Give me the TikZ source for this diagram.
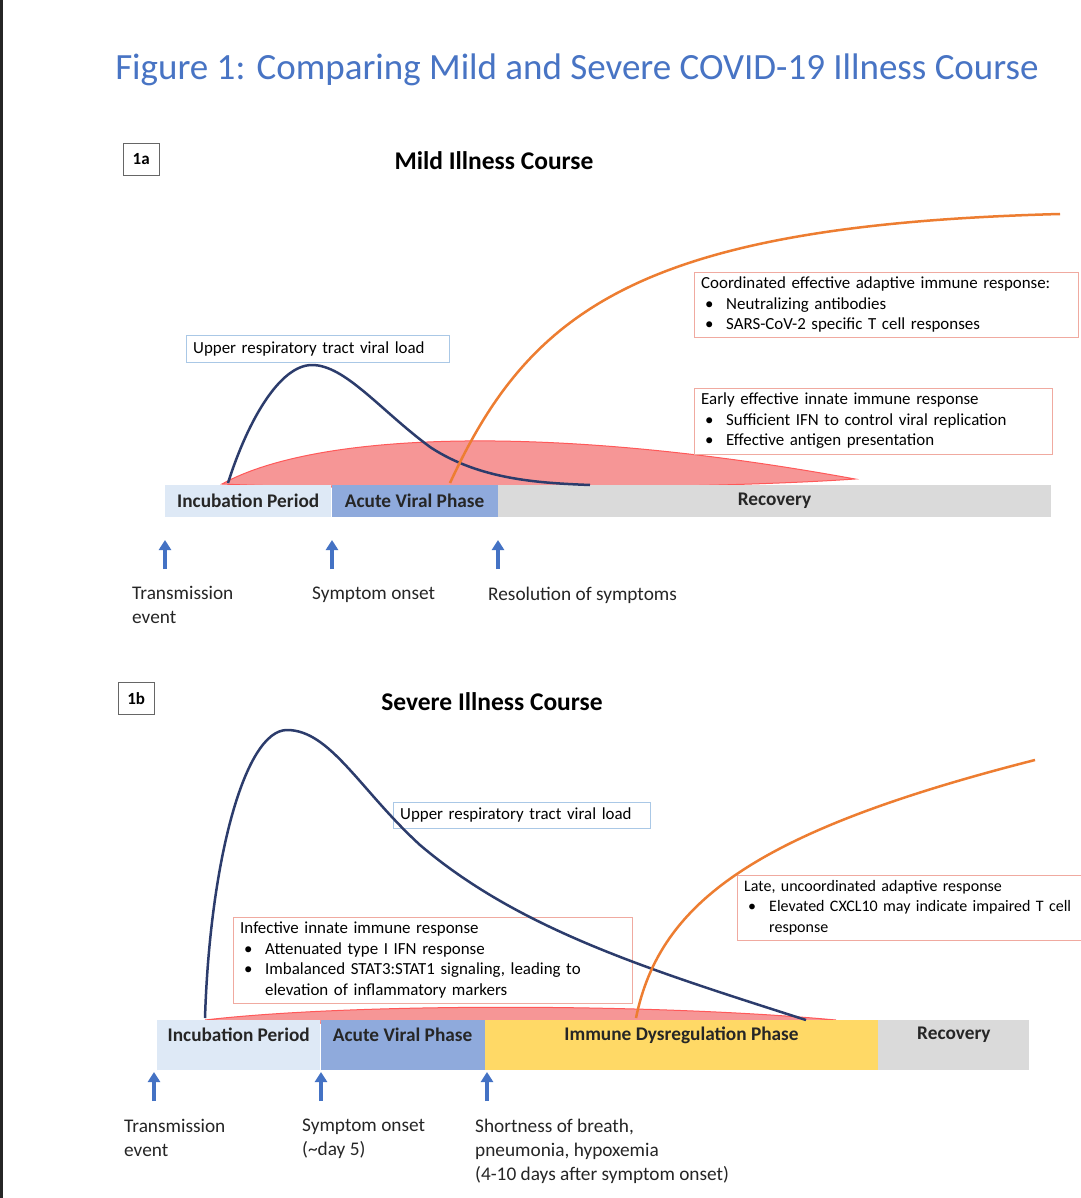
\documentclass[tikz,border=0pt]{standalone}
\usepackage{fontspec}
\setmainfont{Carlito}
\usetikzlibrary{arrows.meta, positioning}

\definecolor{titleblue}{RGB}{72,116,196}
\definecolor{incfill}{RGB}{222,233,246}
\definecolor{acutefill}{RGB}{143,170,220}
\definecolor{recfill}{RGB}{218,218,218}
\definecolor{dysfill}{RGB}{255,217,102}
\definecolor{viralblue}{RGB}{44,60,108}
\definecolor{adaptorange}{RGB}{237,125,49}
\definecolor{innatered}{RGB}{246,150,150}
\definecolor{boxred}{RGB}{240,170,160}
\definecolor{boxblue}{RGB}{170,200,230}
\definecolor{arrowblue}{RGB}{68,114,196}

\newcommand{\bul}{\makebox[25pt][l]{\hspace{4pt}\textbullet}}

\begin{document}
\begin{tikzpicture}[x=1pt, y=-1pt,
    phase/.style={rectangle, draw=none, anchor=north west, inner sep=0pt},
    phaselabel/.style={font=\fontsize{19.3}{22}\selectfont\bfseries, text=black!85},
    panel/.style={rectangle, draw=black!60, fill=white, font=\fontsize{17}{20}\selectfont\bfseries,
                  minimum width=36pt, minimum height=32pt, inner sep=0pt, anchor=north west},
    heading/.style={font=\fontsize{25.5}{30}\selectfont\bfseries},
    note/.style={rectangle, draw=boxred, fill=white, anchor=north west, align=left,
                 inner xsep=7pt, inner ysep=5pt, font=\fontsize{16.9}{20.5}\selectfont},
    event/.style={anchor=north west, inner sep=0pt, align=left,
                  font=\fontsize{19.3}{24}\selectfont, text=black!85},
    uparrow/.style={-{Triangle[width=12pt,length=10pt]}, line width=3.5pt, draw=arrowblue},
    viral/.style={draw=viralblue, line width=2.5pt},
    adaptive/.style={draw=adaptorange, line width=2.5pt},
    innate/.style={fill=innatered, draw=red!65, line width=1pt}]

    \useasboundingbox (0,0) rectangle (1080,1198);
    \fill[white] (0,0) rectangle (1080,1198);
    \draw[black!85, line width=3pt] (1.5,0) -- (1.5,1198);

    \node[font=\fontsize{37}{42}\selectfont, text=titleblue] (title) at (577,70)
        {Figure 1: Comparing Mild and Severe COVID-19 Illness Course};

    % ---- 1a: mild course ----
    \node[panel] (p_a) at (123,143) {1a};
    \node[heading] (h_a) at (494,161) {Mild Illness Course};

    \path[innate] (222,484) .. controls (320,430) and (560,425) .. (855,479)
        .. controls (700,490) and (350,490) .. cycle;

    \node[phase, fill=incfill, minimum width=166pt, minimum height=32pt] (inc_a) at (165,485) {};
    \node[phase, fill=acutefill, minimum width=166pt, minimum height=32pt, right=0pt of inc_a] (acu_a) {};
    \node[phase, fill=recfill, minimum width=553pt, minimum height=32pt, right=0pt of acu_a] (rec_a) {};

    \node[phaselabel] (inc_a_t) at (inc_a) {Incubation Period};
    \node[phaselabel] (acu_a_t) at (acu_a) {Acute Viral Phase};
    \node[phaselabel] (rec_a_t) at (rec_a) {Recovery};

    \node[note, draw=boxblue, text width=249pt, minimum height=27pt, inner ysep=3pt] (vl_a) at (186,335)
        {Upper respiratory tract viral load};
    \node[note, text width=370pt] (ad_a) at (694,272)
        {Coordinated effective adaptive immune response:\par
         \bul Neutralizing antibodies\par
         \bul SARS-CoV-2 specific T cell responses};
    \node[note, text width=344pt] (in_a) at (694,388)
        {Early effective innate immune response\par
         \bul Sufficient IFN to control viral replication\par
         \bul Effective antigen presentation};

    \draw[viral] (228,483) .. controls (248,420) and (280,365) .. (312,365)
        .. controls (345,365) and (380,410) .. (430,447)
        .. controls (480,480) and (540,483) .. (590,485);
    \draw[adaptive] (450,483) .. controls (530,310) and (640,225) .. (1060,214);

    \coordinate (t_a0) at (165,569);
    \coordinate (t_a1) at (165,540);
    \coordinate (s_a0) at (332,569);
    \coordinate (s_a1) at (332,540);
    \coordinate (r_a0) at (498,569);
    \coordinate (r_a1) at (498,540);
    \draw[uparrow] (t_a0) -- (t_a1);
    \draw[uparrow] (s_a0) -- (s_a1);
    \draw[uparrow] (r_a0) -- (r_a1);

    \node[event] (ev_ta) at (132,586) {Transmission\\event};
    \node[event] (ev_sa) at (312,587) {Symptom onset};
    \node[event] (ev_ra) at (488,587) {Resolution of symptoms};

    % ---- 1b: severe course ----
    \node[panel] (p_b) at (118,682) {1b};
    \node[heading] (h_b) at (492,702) {Severe Illness Course};

    \path[innate] (205,1020) .. controls (350,1003) and (650,1003) .. (836,1020)
        .. controls (650,1026) and (350,1026) .. cycle;

    \node[phase, fill=incfill, minimum width=163pt, minimum height=50pt] (inc_b) at (157,1020) {};
    \node[phase, fill=acutefill, minimum width=164pt, minimum height=50pt, right=0pt of inc_b] (acu_b) {};
    \node[phase, fill=dysfill, minimum width=393pt, minimum height=50pt, right=0pt of acu_b] (dys_b) {};
    \node[phase, fill=recfill, minimum width=151pt, minimum height=50pt, right=0pt of dys_b] (rec_b) {};

    \node[phaselabel] (inc_b_t) at ([yshift=-15pt]inc_b.north) {Incubation Period};
    \node[phaselabel] (acu_b_t) at ([yshift=-15pt]acu_b.north) {Acute Viral Phase};
    \node[phaselabel] (dys_b_t) at ([yshift=-15pt]dys_b.north) {Immune Dysregulation Phase};
    \node[phaselabel] (rec_b_t) at ([yshift=-15pt]rec_b.north) {Recovery};

    \node[note, draw=boxblue, text width=243pt, minimum height=26pt, inner ysep=3pt] (vl_b) at (393,802)
        {Upper respiratory tract viral load};
    \node[note, text width=385pt] (in_b) at (233,917)
        {Infective innate immune response\par
         \bul Attenuated type I IFN response\par
         \bul Imbalanced STAT3:STAT1 signaling, leading to\par
         \hspace*{25pt}elevation of inflammatory markers};
    \node[note, text width=345pt, font=\fontsize{16}{20.5}\selectfont] (ad_b) at (737,875)
        {Late, uncoordinated adaptive response\par
         \bul Elevated CXCL10 may indicate impaired T cell\par
         \hspace*{25pt}response};

    \draw[viral] (205,1018) .. controls (210,860) and (245,730) .. (287,730)
        .. controls (330,730) and (360,790) .. (420,845)
        .. controls (520,930) and (650,970) .. (806,1020);
    \draw[adaptive] (636,1018) .. controls (660,900) and (760,830) .. (1035,760);

    \coordinate (t_b0) at (154,1101);
    \coordinate (t_b1) at (154,1072);
    \coordinate (s_b0) at (321,1101);
    \coordinate (s_b1) at (321,1072);
    \coordinate (r_b0) at (487,1101);
    \coordinate (r_b1) at (487,1072);
    \draw[uparrow] (t_b0) -- (t_b1);
    \draw[uparrow] (s_b0) -- (s_b1);
    \draw[uparrow] (r_b0) -- (r_b1);

    \node[event] (ev_tb) at (124,1119) {Transmission\\event};
    \node[event] (ev_sb) at (302,1119) {Symptom onset\\(\textasciitilde day 5)};
    \node[event] (ev_rb) at (475,1119)
        {Shortness of breath,\\pneumonia, hypoxemia\\(4-10 days after symptom onset)};

\end{tikzpicture}
\end{document}
